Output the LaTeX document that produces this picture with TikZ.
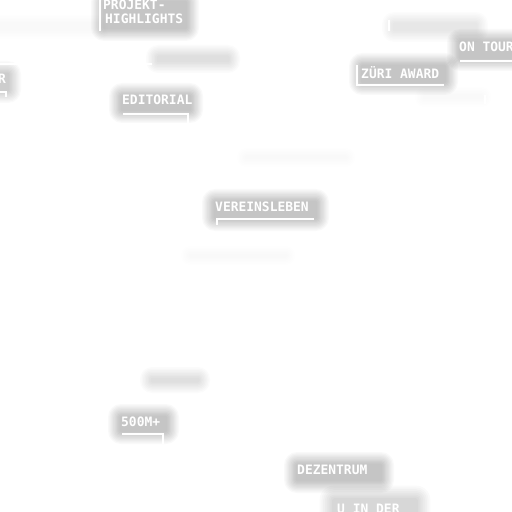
\documentclass[tikz,border=0pt]{standalone}
\usepackage{fontspec}
\newfontfamily\pixfont{DejaVu Sans Mono}
\tikzset{
  lbl/.style={anchor=north west,inner sep=0pt,text=white,font=\pixfont\bfseries\fontsize{13}{14}\selectfont},
  rule/.style={draw=white,line width=2bp},
}
% soft shadow: x1 y1 x2 y2 layers opacity spread
\newcommand\softglow[7]{%
  \foreach \i in {1,...,#5}{%
    \pgfmathsetmacro\d{(#5-\i+1)*#7}%
    \fill[black,opacity=#6,rounded corners=\d bp] (#1-\d,#2-\d) rectangle (#3+\d,#4+\d);
  }}
\begin{document}
\begin{tikzpicture}[x=1bp,y=-1bp]
\fill[white] (0,0) rectangle (512,512);
\useasboundingbox (0,0) rectangle (512,512);
\begin{scope}
\clip (0,0) rectangle (512,512);
% faint bands
\softglow{0}{24}{100}{30}{6}{0.004}{1.5}
\softglow{394}{24}{476}{30}{8}{0.012}{1.5}
\softglow{158}{57}{228}{61}{8}{0.015}{1.5}
\softglow{424}{96}{482}{98}{6}{0.005}{1.5}
\softglow{246}{157}{346}{158}{6}{0.003}{1.5}
\softglow{190}{255}{286}{256}{6}{0.005}{1.5}
\softglow{152}{379}{198}{381}{8}{0.014}{1.5}
\softglow{334}{500}{416}{512}{8}{0.018}{1.8}
% label glows
\softglow{104}{2}{186}{28}{10}{0.022}{1.3}
\softglow{0}{74}{8}{90}{10}{0.02}{1.3}
\softglow{122}{96}{190}{110}{10}{0.022}{1.3}
\softglow{460}{42}{512}{58}{10}{0.022}{1.3}
\softglow{362}{66}{445}{82}{10}{0.022}{1.3}
\softglow{215}{202}{316}{218}{10}{0.022}{1.3}
\softglow{121}{417}{166}{431}{10}{0.022}{1.3}
\softglow{297}{465}{381}{480}{10}{0.022}{1.3}
% labels
\node[lbl] (proj) at (103,0) {PROJEKT-};
\node[lbl] (high) at (105,14) {HIGHLIGHTS};
\node[lbl] (lr) at (-2,74) {R};
\node[lbl] (edit) at (122,95) {EDITORIAL};
\node[lbl] (tour) at (459,42) {ON TOUR};
\node[lbl] (zuri) at (361,66) {ZÜRI AWARD};
\node[lbl] (verein) at (215,202) {VEREINSLEBEN};
\node[lbl] (m500) at (121,417) {500M+};
\node[lbl] (dez) at (297,465) {DEZENTRUM};
\node[lbl] (klub) at (337,504) {U IN DER};
% rules
\coordinate (p1) at (100,0); \coordinate (p2) at (100,31);
\draw[rule] (p1) -- (p2);
\coordinate (a1) at (0,64); \coordinate (a2) at (152,64);
\draw[rule] (a1) -- (a2);
\coordinate (e1) at (123,114); \coordinate (e2) at (188,114); \coordinate (e3) at (188,123);
\draw[rule] (e1) -- (e2) -- (e3);
\coordinate (t1) at (460,61); \coordinate (t2) at (512,61);
\draw[rule] (t1) -- (t2);
\coordinate (z1) at (357,65); \coordinate (z2) at (357,85); \coordinate (z3) at (444,85);
\draw[rule] (z1) -- (z2) -- (z3);
\coordinate (o1) at (389,20); \coordinate (o2) at (389,31);
\draw[rule] (o1) -- (o2);
\coordinate (v1) at (217,225); \coordinate (v2) at (217,219); \coordinate (v3) at (314,219);
\draw[rule] (v1) -- (v2) -- (v3);
\coordinate (n1) at (485,95); \coordinate (n2) at (485,104);
\draw[rule] (n1) -- (n2);
\coordinate (m1) at (122,434); \coordinate (m2) at (163,434); \coordinate (m3) at (163,444);
\draw[rule] (m1) -- (m2) -- (m3);
\coordinate (r1) at (0,92); \coordinate (r2) at (6,92); \coordinate (r3) at (6,97);
\draw[rule] (r1) -- (r2) -- (r3);
\end{scope}
\end{tikzpicture}
\end{document}
